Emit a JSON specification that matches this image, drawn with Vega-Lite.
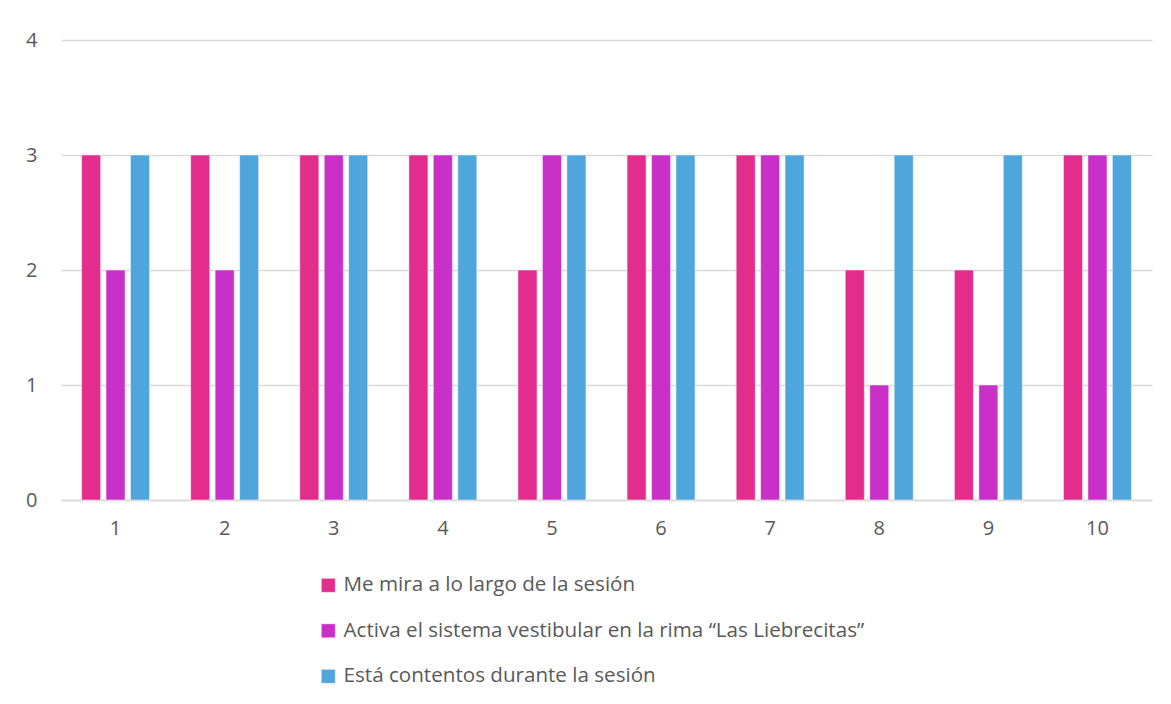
{
  "$schema": "https://vega.github.io/schema/vega-lite/v6.json",
  "width": 1091,
  "height": 460,
  "autosize": {"type": "none"},
  "padding": {"left": 61, "top": 40, "right": 19, "bottom": 204},
  "background": "white",
  "data": {
    "values": [
      {"sesion": "1", "serie": "Me mira a lo largo de la sesión", "valor": 3},
      {"sesion": "1", "serie": "Activa el sistema vestibular en la rima “Las Liebrecitas”", "valor": 2},
      {"sesion": "1", "serie": "Está contentos durante la sesión", "valor": 3},
      {"sesion": "2", "serie": "Me mira a lo largo de la sesión", "valor": 3},
      {"sesion": "2", "serie": "Activa el sistema vestibular en la rima “Las Liebrecitas”", "valor": 2},
      {"sesion": "2", "serie": "Está contentos durante la sesión", "valor": 3},
      {"sesion": "3", "serie": "Me mira a lo largo de la sesión", "valor": 3},
      {"sesion": "3", "serie": "Activa el sistema vestibular en la rima “Las Liebrecitas”", "valor": 3},
      {"sesion": "3", "serie": "Está contentos durante la sesión", "valor": 3},
      {"sesion": "4", "serie": "Me mira a lo largo de la sesión", "valor": 3},
      {"sesion": "4", "serie": "Activa el sistema vestibular en la rima “Las Liebrecitas”", "valor": 3},
      {"sesion": "4", "serie": "Está contentos durante la sesión", "valor": 3},
      {"sesion": "5", "serie": "Me mira a lo largo de la sesión", "valor": 2},
      {"sesion": "5", "serie": "Activa el sistema vestibular en la rima “Las Liebrecitas”", "valor": 3},
      {"sesion": "5", "serie": "Está contentos durante la sesión", "valor": 3},
      {"sesion": "6", "serie": "Me mira a lo largo de la sesión", "valor": 3},
      {"sesion": "6", "serie": "Activa el sistema vestibular en la rima “Las Liebrecitas”", "valor": 3},
      {"sesion": "6", "serie": "Está contentos durante la sesión", "valor": 3},
      {"sesion": "7", "serie": "Me mira a lo largo de la sesión", "valor": 3},
      {"sesion": "7", "serie": "Activa el sistema vestibular en la rima “Las Liebrecitas”", "valor": 3},
      {"sesion": "7", "serie": "Está contentos durante la sesión", "valor": 3},
      {"sesion": "8", "serie": "Me mira a lo largo de la sesión", "valor": 2},
      {"sesion": "8", "serie": "Activa el sistema vestibular en la rima “Las Liebrecitas”", "valor": 1},
      {"sesion": "8", "serie": "Está contentos durante la sesión", "valor": 3},
      {"sesion": "9", "serie": "Me mira a lo largo de la sesión", "valor": 2},
      {"sesion": "9", "serie": "Activa el sistema vestibular en la rima “Las Liebrecitas”", "valor": 1},
      {"sesion": "9", "serie": "Está contentos durante la sesión", "valor": 3},
      {"sesion": "10", "serie": "Me mira a lo largo de la sesión", "valor": 3},
      {"sesion": "10", "serie": "Activa el sistema vestibular en la rima “Las Liebrecitas”", "valor": 3},
      {"sesion": "10", "serie": "Está contentos durante la sesión", "valor": 3}
    ]
  },
  "mark": {"type": "bar"},
  "encoding": {
    "x": {
      "field": "sesion",
      "type": "nominal",
      "sort": ["1","2","3","4","5","6","7","8","9","10"],
      "scale": {"paddingInner": 0.377, "paddingOuter": 0.1885},
      "axis": {
        "title": null,
        "labelAngle": 0,
        "ticks": false,
        "labelPadding": 18,
        "labelFontSize": 20,
        "labelFont": "Open Sans",
        "labelColor": "#595959",
        "domainColor": "#d9d9d9",
        "domainWidth": 1.5,
        "grid": false
      }
    },
    "xOffset": {
      "field": "serie",
      "type": "nominal",
      "sort": ["Me mira a lo largo de la sesión", "Activa el sistema vestibular en la rima “Las Liebrecitas”", "Está contentos durante la sesión"],
      "scale": {"paddingInner": 0.22, "paddingOuter": 0}
    },
    "y": {
      "field": "valor",
      "type": "quantitative",
      "scale": {"domain": [0, 4], "nice": false},
      "axis": {
        "title": null,
        "values": [0, 1, 2, 3, 4],
        "ticks": false,
        "domain": false,
        "labelPadding": 24,
        "labelFontSize": 20,
        "labelFont": "Open Sans",
        "labelColor": "#595959",
        "gridColor": "#d9d9d9",
        "gridWidth": 1.5
      }
    },
    "color": {
      "field": "serie",
      "type": "nominal",
      "sort": ["Me mira a lo largo de la sesión", "Activa el sistema vestibular en la rima “Las Liebrecitas”", "Está contentos durante la sesión"],
      "scale": {"range": ["#E32D8C", "#C930C8", "#4EA6DC"]},
      "legend": {
        "title": null,
        "orient": "none",
        "legendX": 257,
        "legendY": 535,
        "direction": "vertical",
        "symbolType": "square",
        "symbolSize": 196,
        "symbolStrokeWidth": 0,
        "labelFontSize": 20.6,
        "labelFont": "Open Sans",
        "labelColor": "#595959",
        "labelOffset": 5,
        "rowPadding": 24.5,
        "labelLimit": 700,
        "padding": 0
      }
    }
  },
  "config": {
    "view": {"stroke": null},
    "bar": {"stroke": "white", "strokeWidth": 0.5}
  }
}
